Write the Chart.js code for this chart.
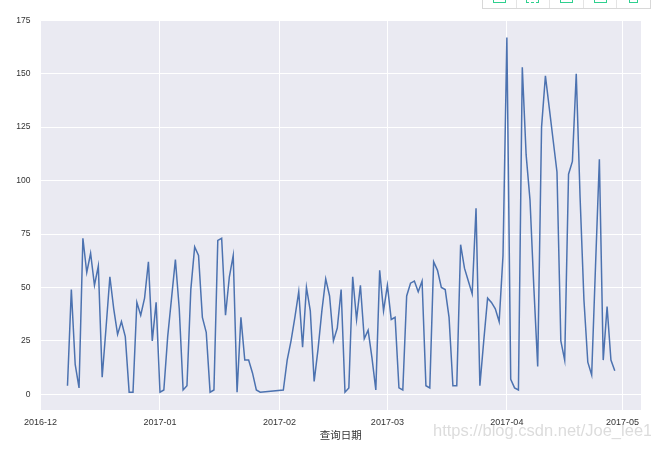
<!DOCTYPE html>
<html>
<head>
<meta charset="utf-8">
<style>
html, body { margin: 0; padding: 0; background: #fff; }
#wrap { position: relative; width: 651px; height: 450px; overflow: hidden; }
canvas { display: block; filter: blur(0.35px); }
#mark { position: absolute; left: 433px; top: 421px; font: 16.5px "Liberation Sans", sans-serif; color: rgba(150,150,150,0.33); white-space: nowrap; }
#tools { position: absolute; left: 482px; top: -1px; width: 167px; height: 9px; display: flex; border: 1px solid #d8d8d8; border-top: 0; }
#tools div { flex: 1; height: 9px; border-left: 1px solid #e4e4e4; display: flex; justify-content: center; }
#tools div:first-child { border-left: 0; }
#tools span { display: block; width: 11px; height: 3px; border: 1px solid #2fd08f; border-top: 0; }
#tools .bracket { border-bottom-style: dashed; }
#tools .gear { width: 7px; }
</style>
</head>
<body>
<div id="wrap">
<canvas id="chart" width="651" height="450"></canvas>
<div id="tools"><div><span></span></div><div><span class="bracket"></span></div><div><span></span></div><div><span></span></div><div><span class="gear"></span></div></div>
<div id="mark">https://blog.csdn.net/Joe_lee1</div>
</div>
<script src="https://cdn.jsdelivr.net/npm/chart.js@4"></script>
<script>
// daily counts, grouped by month; the end of January has no records
const dec = ['2016-12-08','2016-12-09','2016-12-10','2016-12-11','2016-12-12','2016-12-13','2016-12-14','2016-12-15','2016-12-16','2016-12-17','2016-12-18','2016-12-19','2016-12-20','2016-12-21','2016-12-22','2016-12-23','2016-12-24','2016-12-25','2016-12-26','2016-12-27','2016-12-28','2016-12-29','2016-12-30','2016-12-31'];
const decValues = [4,49,14,3,73,57,66,51,60,8,31,55,40,28,34,27,1,1,43,37,45,62,25,43];
const janDays = [1,2,3,4,5,6,7,8,9,10,11,12,13,14,15,16,17,18,19,20,21,22,23,24,25,26,27];
const janValues = [1,2,27,45,63,40,2,4,49,69,65,36,29,1,2,72,73,37,55,65,1,36,16,16,10,2,1];
const febDays = [2,3,4,5,6,7,8,9,10,11,12,13,14,15,16,17,18,19,20,21,22,23,24,25,26,27,28];
const febValues = [2,16,25,36,48,22,50,39,6,21,39,54,46,25,31,49,1,3,55,35,51,26,30,17,2,58,39];
const marValues = [51,35,36,3,2,46,52,53,48,53,4,3,62,58,50,49,36,4,4,70,59,53,47,87,4,25,45,43,40,34,65];
const aprValues = [167,7,3,2,153,112,91,50,13,125,149,134,119,104,25,16,103,109,150,92,44,15,9,60,110,16,41,16,11];
const monthTicks = ['2016-12-01','2017-01-01','2017-02-01','2017-03-01','2017-04-01','2017-05-01'];
const yTicks = [0,25,50,75,100,125,150,175];
const xTitle = '查询日期';

const DAY = 86400000;
const ts = s => Date.parse(s + 'T00:00:00Z');
const pad = n => String(n).padStart(2, '0');

const points = [];
dec.forEach((d, i) => points.push({ x: ts(d), y: decValues[i] }));
janDays.forEach((d, i) => points.push({ x: ts('2017-01-' + pad(d)), y: janValues[i] }));
febDays.forEach((d, i) => points.push({ x: ts('2017-02-' + pad(d)), y: febValues[i] }));
marValues.forEach((v, i) => points.push({ x: ts('2017-03-' + pad(i + 1)), y: v }));
aprValues.forEach((v, i) => points.push({ x: ts('2017-04-' + pad(i + 1)), y: v }));

const plotBg = {
    id: 'plotBg',
    beforeDraw(chart) {
        const a = chart.chartArea;
        chart.ctx.fillStyle = '#EAEAF2';
        chart.ctx.fillRect(a.left, a.top, a.right - a.left, a.bottom - a.top);
    }
};

Chart.defaults.font.family = "'Liberation Sans', sans-serif";
Chart.defaults.font.size = 9;
Chart.defaults.color = '#333333';

new Chart(document.getElementById('chart').getContext('2d'), {
    type: 'line',
    plugins: [plotBg],
    data: {
        datasets: [{
            data: points,
            borderColor: '#4C72B0',
            borderWidth: 1.5,
            pointRadius: 0,
            tension: 0,
            fill: false
        }]
    },
    options: {
        responsive: false,
        animation: false,
        layout: { padding: { top: 20.3, right: 10, bottom: 9, left: 0 } },
        plugins: { legend: { display: false }, tooltip: { enabled: false } },
        scales: {
            x: {
                type: 'linear',
                min: ts('2016-12-01'),
                max: ts('2017-05-01') + 4.8 * DAY,
                afterBuildTicks: axis => { axis.ticks = monthTicks.map(m => ({ value: ts(m) })); },
                afterFit: axis => { axis.height = 31; },
                ticks: {
                    autoSkip: false,
                    maxRotation: 0,
                    padding: 7,
                    callback: v => new Date(v).toISOString().slice(0, 7)
                },
                border: { display: false },
                grid: { color: '#ffffff', lineWidth: 1, drawTicks: false },
                title: {
                    display: true,
                    text: xTitle,
                    font: { family: "'Noto Sans CJK SC', sans-serif", size: 10.5 },
                    padding: { top: 0, bottom: 0 }
                }
            },
            y: {
                min: -7.35,
                max: 175,
                afterBuildTicks: axis => { axis.ticks = yTicks.map(v => ({ value: v })); },
                afterFit: axis => { axis.width = 40.5; },
                ticks: { padding: 10, font: { size: 8.5 } },
                border: { display: false },
                grid: { color: '#ffffff', lineWidth: 1, drawTicks: false }
            }
        }
    }
});
</script>
</body>
</html>
